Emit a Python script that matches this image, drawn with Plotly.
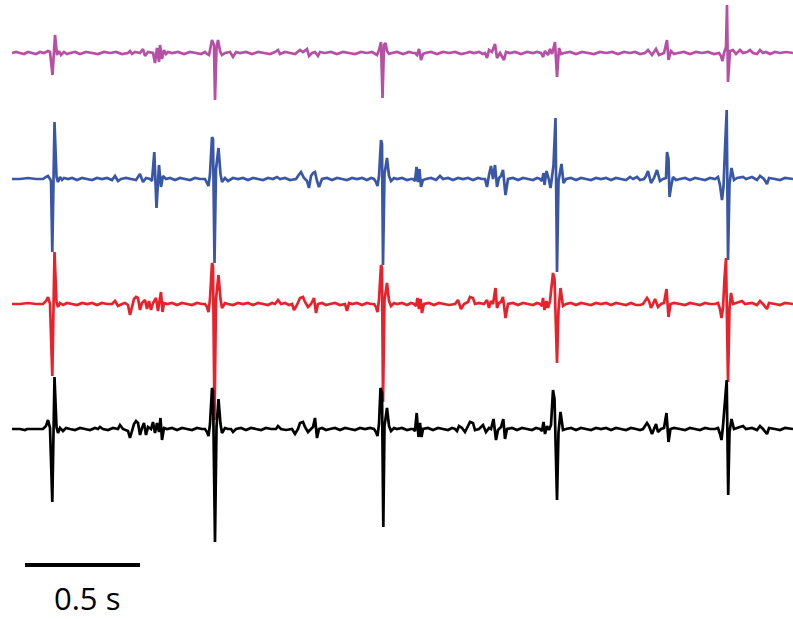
import plotly.graph_objects as go

# Sampling: time given in samples at FS Hz; amplitudes in microvolts relative to each trace's baseline
FS = 230.0

magenta = [(12,0),(16,10),(20,0),(24,-10),(28,10),(32,0),(36,-10),(40,10),(44,0),(48,20),(50,10),(52.5,-220),(55,180),(57,-20),(59,20),(61,-20),(64,10),(67,-10),(70,0),(75,10),(80,-10),(86,10),(92,0),(98,-10),(104,10),(110,0),(116,10),(122,-10),(128,0),(130,20),(132,-10),(135,10),(140,0),(143,40),(145,-30),(148,10),(153,0),(155,-100),(157,50),(159,-90),(160,80),(162,-60),(164,30),(166,-10),(168,10),(172,0),(178,10),(184,-10),(190,10),(196,0),(201,-10),(205,10),(207,-10),(209,-20),(212,130),(214,80),(215,-470),(216.5,50),(218,130),(220,20),(222,-20),(225,0),(230,10),(233,-40),(236,10),(240,0),(246,10),(252,-10),(258,10),(264,0),(270,-10),(275,10),(278,30),(280,-10),(285,10),(290,0),(295,-10),(300,30),(303,10),(307,40),(309,-30),(312,0),(315,10),(318,-30),(320,10),(325,0),(331,10),(337,-10),(343,10),(349,0),(355,-10),(361,10),(367,0),(372,10),(377,-20),(379,30),(381,110),(382.5,-450),(384,80),(385.5,100),(387,20),(389,-10),(392,0),(397,10),(403,-10),(409,10),(413,0),(415,0),(417,-20),(419,40),(421,-70),(423,-10),(425,0),(431,10),(437,-10),(443,10),(449,0),(455,10),(461,-10),(466,0),(470,10),(474,0),(479,10),(483,-10),(485,0),(487,-50),(489,30),(492,10),(495,90),(497,-50),(500,0),(504,-70),(506,10),(510,0),(515,10),(521,-10),(527,10),(533,0),(537,10),(541,0),(543,-40),(545,20),(548,-20),(550,40),(552,-10),(555,110),(557,-240),(559,50),(561,-10),(564,0),(570,10),(576,-10),(582,10),(588,0),(594,-10),(600,10),(606,0),(612,10),(618,-10),(624,10),(630,0),(635,10),(640,-10),(645,0),(648,30),(652,-20),(656,40),(659,-20),(664,0),(667,130),(668.5,-70),(671,20),(674,-10),(678,0),(684,10),(690,-10),(696,10),(702,0),(708,10),(714,-10),(719,0),(721,-30),(722.5,-80),(724,0),(726,60),(727,480),(728,-290),(730,20),(733,30),(736,-10),(740,30),(743,0),(747,10),(750,30),(753,0),(757,-10),(760,30),(763,0),(766,10),(770,-10),(775,10),(780,0),(786,10),(793,0)]

blue = [(12,0),(20,0),(28,10),(36,0),(43,0),(46,20),(48,30),(50,0),(51,-20),(52.3,-730),(54.5,570),(56.5,20),(58,-30),(60,20),(62,-10),(64,10),(68,0),(72,10),(77,-10),(82,10),(87,0),(92,-10),(97,10),(102,0),(107,10),(112,-10),(115,30),(118,-20),(121,0),(126,10),(131,0),(136,-10),(140,50),(143,-30),(146,10),(150,0),(152,-20),(154.3,270),(156.5,-290),(159,140),(161,-80),(163,30),(166,0),(170,10),(175,-10),(180,10),(185,0),(190,-10),(195,10),(200,0),(205,0),(207,-40),(208.5,-70),(210,50),(212,420),(213,400),(214.5,-840),(216,100),(218.5,310),(220.5,50),(222,-30),(225,10),(228,-20),(233,10),(238,0),(243,10),(248,-10),(253,10),(258,0),(263,-10),(268,10),(273,0),(277,20),(280,0),(285,10),(290,-10),(296,0),(298,30),(301,70),(304,10),(307,-20),(309,-90),(311,30),(313,60),(315,70),(317,-20),(319,-80),(322,0),(327,10),(332,-10),(337,10),(342,0),(347,-10),(352,10),(357,0),(362,10),(367,-10),(371,10),(374,0),(376,-30),(377.5,-70),(379,30),(381,390),(382,350),(383,-860),(384.5,50),(387,210),(389,30),(391,-20),(394,10),(397,0),(402,10),(407,-10),(411,0),(413,0),(415,-20),(416.5,120),(418,-30),(419.5,100),(421,-80),(423,-10),(426,0),(431,10),(436,-10),(440,30),(443,0),(448,10),(453,-10),(458,10),(463,0),(468,10),(473,-10),(478,10),(482,0),(485,0),(487,-80),(489,40),(491,130),(493,0),(495,140),(497,-80),(499,10),(501,30),(503,90),(505.5,-160),(508,0),(513,10),(518,-10),(523,10),(528,0),(533,-10),(537,10),(540,0),(542,-20),(543.5,60),(544.5,-60),(546.5,80),(549,-10),(550.5,-90),(552,20),(553.5,140),(555.5,610),(557,-930),(558.5,-20),(561.5,150),(563.5,-40),(566,0),(571,10),(576,-10),(581,10),(586,0),(591,-10),(596,10),(601,0),(606,10),(611,-10),(616,10),(621,0),(626,-10),(630,20),(633,0),(637,20),(640,-10),(644,0),(646,30),(648,80),(651,-40),(654,10),(657,90),(660,-20),(663,0),(666,10),(667,270),(668.5,200),(669.5,-180),(671,-80),(673,20),(676,-10),(680,0),(685,10),(690,-10),(695,10),(700,0),(705,-10),(710,10),(715,0),(718,20),(720,-60),(722,-210),(723.5,-80),(725,300),(726.7,690),(728,-810),(729.5,-50),(731.5,110),(734,-10),(737,10),(743,20),(746,0),(752,20),(757,-10),(760,30),(764,0),(767,-50),(769,10),(775,0),(780,-10),(785,10),(793,0)]

red = [(12,0),(20,0),(28,10),(36,0),(43,0),(46,30),(48,70),(50,0),(52.3,-720),(54.5,520),(56.5,20),(58,-30),(60,10),(63,-10),(67,10),(72,0),(77,-10),(82,10),(87,0),(92,10),(97,-10),(102,10),(107,0),(112,0),(115,30),(118,-20),(122,0),(125,10),(128,-10),(130,-110),(132,-30),(134,50),(136,70),(138,60),(140,-60),(142,10),(145,40),(147,-50),(149,30),(151,-60),(153,10),(156,60),(158,-70),(159.5,30),(161,120),(162.5,-80),(164,10),(167,0),(172,10),(177,-10),(182,10),(187,0),(192,-10),(197,10),(202,0),(205,0),(207,-30),(208.5,-80),(210,50),(212,410),(213,380),(214.5,-1160),(216,50),(218.5,290),(220.5,50),(222,-40),(225,10),(228,0),(233,-10),(238,10),(243,0),(248,10),(253,-10),(258,10),(263,0),(268,-10),(272,10),(275,0),(278,40),(281,0),(285,10),(289,-10),(292,0),(294,-60),(297,-10),(300,60),(303,70),(305,20),(308,-30),(311,0),(314,60),(316,-90),(318,0),(322,10),(326,-10),(330,0),(335,10),(340,-10),(345,0),(347,-70),(349,10),(352,0),(357,10),(362,-10),(367,10),(371,0),(374,0),(376,-30),(377.5,-80),(379,40),(381,390),(382,360),(383,-980),(384.5,40),(387,210),(389,30),(391,-20),(394,10),(397,0),(402,10),(407,-10),(411,10),(414,0),(416,-20),(417.5,60),(419,-50),(420.5,50),(422,-90),(424,0),(429,10),(434,-10),(439,10),(444,0),(449,-10),(455,0),(458,40),(461,-50),(464,0),(468,20),(470,70),(473,60),(475,0),(479,10),(484,0),(487,40),(489,-40),(491,30),(493,0),(495.5,160),(497,-40),(499,10),(501,20),(503,70),(505.5,-140),(508,0),(513,10),(518,-10),(523,10),(528,0),(533,-10),(537,10),(540,0),(542,-20),(543,60),(544.5,-60),(546.5,30),(548,-40),(550,30),(553,310),(554.5,250),(557,-590),(558.5,-60),(560.5,160),(563,-20),(566,0),(571,10),(576,-10),(581,10),(586,0),(591,-10),(596,10),(601,0),(606,10),(611,-10),(616,10),(621,0),(626,-10),(631,10),(636,-10),(640,-10),(643,0),(645,30),(647,60),(649,30),(651,-40),(653,0),(655,50),(658,-30),(661,0),(664,10),(666.5,150),(668.5,-130),(670.5,0),(674,10),(680,0),(685,-10),(690,10),(695,0),(700,-10),(705,10),(710,0),(715,0),(718,10),(720,-50),(721.5,-140),(723,-40),(724.5,250),(726,460),(728,-780),(729.5,-40),(731,110),(733,0),(736,10),(742,30),(745,0),(752,10),(757,-10),(760,30),(763,0),(767,-50),(769,10),(775,0),(780,-10),(785,10),(793,0)]

black = [(12,0),(20,0),(25,-10),(27,0),(35,0),(43,0),(46,30),(48,90),(50,10),(52.3,-730),(54.5,520),(56.5,20),(58,-40),(60,10),(63,-20),(66,10),(70,0),(75,-10),(80,10),(85,0),(90,-10),(95,10),(98,0),(100,20),(103,0),(108,-10),(113,10),(118,0),(120,40),(123,0),(128,-20),(130,-90),(132,-20),(134,50),(136,80),(138,60),(140,-60),(142,10),(144,60),(146,-60),(148,20),(151,0),(153,70),(155,-40),(157,60),(159,-30),(160.5,110),(162,-110),(164,10),(167,0),(172,10),(177,-10),(182,10),(187,0),(192,-10),(197,10),(202,0),(205,0),(207,-30),(208.5,-70),(210,50),(212,410),(213,380),(215,-1130),(216.5,20),(218.5,300),(220.5,50),(222,-40),(225,10),(228,0),(231,0),(233,-30),(236,0),(241,10),(246,-10),(251,10),(256,0),(261,-10),(266,10),(271,0),(276,0),(278,30),(281,0),(286,-10),(292,0),(295,-50),(298,0),(300,60),(303,70),(305,20),(308,-30),(311,0),(313,20),(315,110),(317,-90),(319,0),(322,10),(326,-10),(330,0),(335,10),(340,-10),(345,10),(350,0),(355,-10),(360,10),(365,0),(370,10),(374,0),(376,-30),(377.5,-70),(379,50),(380.5,410),(382,360),(383.3,-980),(384.5,30),(387,210),(389,30),(391,-20),(394,10),(397,0),(402,10),(407,-10),(411,0),(413,0),(415,-20),(416.7,160),(418.5,-80),(420,60),(421.5,-80),(423,0),(428,10),(433,-10),(438,10),(443,0),(448,-10),(452,10),(455,0),(457,-20),(459,30),(462,10),(465,-30),(468,30),(470,70),(473,60),(475,-10),(479,0),(483,40),(486,-30),(489,10),(491,0),(493.5,100),(496,-110),(498,-10),(501,20),(503.3,100),(505,-100),(507,0),(512,10),(517,-10),(522,10),(527,0),(532,-10),(536,10),(540,0),(542,-20),(543.5,70),(545,-50),(547,30),(549,-10),(551,40),(553,390),(554.5,300),(557,-710),(558.5,-30),(560.5,170),(563,-10),(566,0),(571,10),(576,-10),(581,10),(586,0),(591,-10),(596,10),(601,0),(606,10),(611,-10),(616,10),(621,0),(626,-10),(631,10),(636,0),(640,-10),(643,0),(645,30),(647,60),(649,30),(652,-50),(654,0),(656,50),(658,-30),(661,0),(664,10),(666.5,160),(668.5,-130),(670.5,0),(674,10),(680,0),(685,-10),(690,10),(695,0),(700,-10),(705,10),(710,0),(715,0),(718,10),(720,-50),(721.5,-110),(723,30),(724.5,220),(726.7,490),(728.2,-660),(729.5,-30),(731.5,100),(734,0),(737,10),(743,30),(746,0),(752,10),(757,-10),(760,30),(763,0),(767,-50),(769,10),(775,0),(780,-10),(785,10),(793,0)]

trace_names = ["magenta", "blue", "red", "black"]
trace_data = [magenta, blue, red, black]
trace_colors = ["#B64FA5", "#3A57A7", "#E8212B", "#000000"]
trace_offsets_uv = [-530, -1790, -3040, -4290]   # vertical stacking offsets

scale_bar_s = 0.5
scale_bar_label = "0.5 s"

fig = go.Figure()
for name, pts, col, off in zip(trace_names, trace_data, trace_colors, trace_offsets_uv):
    t = [p[0] / FS for p in pts]
    v = [p[1] + off for p in pts]
    fig.add_trace(go.Scatter(x=t, y=v, mode="lines", name=name,
                             line=dict(color=col, width=2.7, simplify=False),
                             hoverinfo="skip", showlegend=False))

# scale bar
bar_x0 = 25 / FS
fig.add_trace(go.Scatter(x=[bar_x0, bar_x0 + scale_bar_s], y=[-5650, -5650], mode="lines",
                         line=dict(color="black", width=4), showlegend=False, hoverinfo="skip"))
fig.add_annotation(x=bar_x0 + scale_bar_s / 2 + 0.02, y=-5980, text=scale_bar_label, showarrow=False,
                   font=dict(family="Open Sans", size=31, color="black"),
                   xanchor="center", yanchor="middle")

fig.update_layout(width=793, height=619, margin=dict(l=0, r=0, t=0, b=0),
                  paper_bgcolor="white", plot_bgcolor="white",
                  xaxis=dict(visible=False, range=[0, 793 / FS], fixedrange=True),
                  yaxis=dict(visible=False, range=[-6190, 0], fixedrange=True))
fig.write_html("out.html")
